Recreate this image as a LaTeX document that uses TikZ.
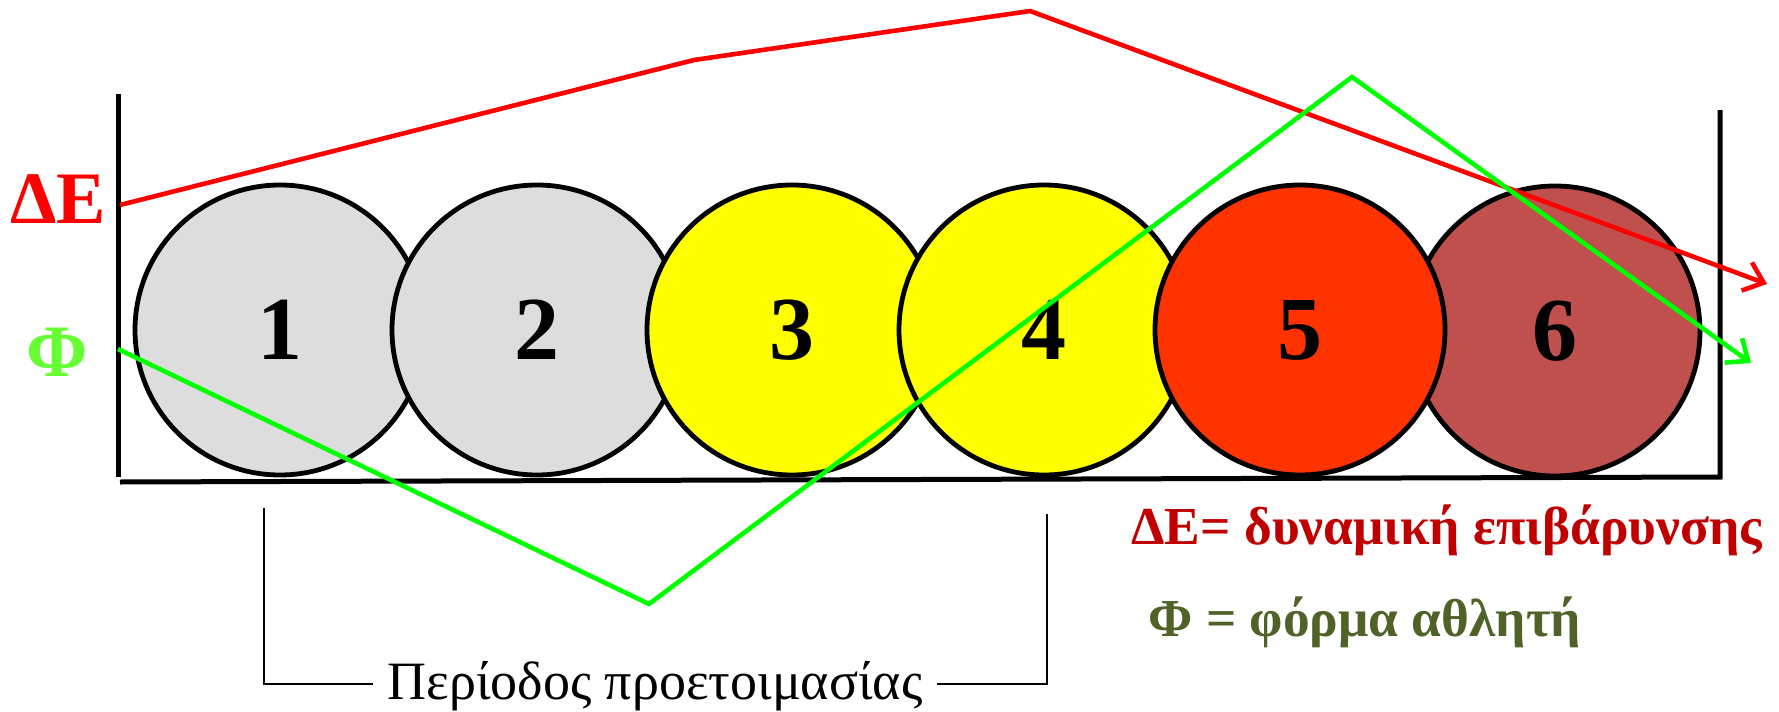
\documentclass[tikz,border=0pt]{standalone}
\usepackage{fontspec}
\setmainfont{Liberation Serif}
\usetikzlibrary{arrows.meta}
\definecolor{ballgray}{HTML}{DDDDDD}
\definecolor{ballyellow}{HTML}{FFFF00}
\definecolor{ballred}{HTML}{FF3300}
\definecolor{ballbrown}{HTML}{C0504D}
\definecolor{lred}{HTML}{FF0000}
\definecolor{lgreen}{HTML}{00FF00}
\definecolor{phigreen}{HTML}{66FF33}
\definecolor{legred}{HTML}{C00000}
\definecolor{legolive}{HTML}{4F6228}
\tikzset{
  axis/.style={line width=2.5pt, black},
  ball/.style={circle, draw=black, line width=2.4pt, minimum size=145pt, inner sep=0pt,
    font=\fontsize{45}{45}\selectfont\bfseries},
  curve/.style={line width=2.3pt, line join=miter,
    -{Straight Barb[length=9pt,width=15pt,line width=2.3pt]}},
  bracket/.style={line width=1.1pt, black},
}
\begin{document}
\begin{tikzpicture}[x=0.5pt,y=-0.5pt]
\useasboundingbox (0,0) rectangle (1779,712);
% axes
\coordinate (ytop) at (118,94);
\coordinate (ybot) at (118,477);
\coordinate (xl) at (120,482);
\coordinate (xr) at (1720,477);
\coordinate (rtop) at (1720,110);
\draw[axis] (ytop) -- (ybot);
\draw[axis] (xl) -- (xr) -- (rtop);
% balls
\node[ball, fill=ballbrown] (b6) at (1555,331) {6};
\node[ball, fill=ballgray] (b1) at (280,330) {1};
\node[ball, fill=ballgray] (b2) at (537,330) {2};
\node[ball, fill=ballyellow] (b3) at (792,330) {3};
\node[ball, fill=ballyellow] (b4) at (1044,330) {4};
\node[ball, fill=ballred] (b5) at (1300,330) {5};
% axis labels
\node[text=lred, font=\fontsize{37}{37}\selectfont\bfseries] (lde) at (58,199) {ΔΕ};
\node[text=phigreen, font=\fontsize{37}{37}\selectfont\bfseries] (lphi) at (57,352) {Φ};
% red curve
\coordinate (r0) at (120,205);
\coordinate (r1) at (694,60);
\coordinate (r2) at (1030,11);
\coordinate (r3) at (1767,284);
\draw[curve, lred] (r0) -- (r1) -- (r2) -- (r3);
% green curve
\coordinate (g0) at (118,349);
\coordinate (g1) at (649,604);
\coordinate (g2) at (1352,77);
\coordinate (g3) at (1751,363);
\draw[curve, lgreen] (g0) -- (g1) -- (g2) -- (g3);
% legend
\node[anchor=west, text=legred, font=\fontsize{26.7}{26.7}\selectfont\bfseries, inner sep=0pt] (leg1) at (1131,530) {ΔΕ= δυναμική επιβάρυνσης};
\node[anchor=west, text=legolive, font=\fontsize{26.7}{26.7}\selectfont\bfseries, inner sep=0pt] (leg2) at (1148,622) {Φ = φόρμα αθλητή};
% bracket
\node[font=\fontsize{27}{27}\selectfont, inner xsep=7pt, inner ysep=0pt] (per) at (655,686) {Περίοδος προετοιμασίας};
\coordinate (bl) at (264,508);
\coordinate (blc) at (264,684);
\coordinate (br) at (1047,514);
\coordinate (brc) at (1047,684);
\draw[bracket] (bl) -- (blc) -- (blc -| per.west);
\draw[bracket] (brc -| per.east) -- (brc) -- (br);
\end{tikzpicture}
\end{document}
